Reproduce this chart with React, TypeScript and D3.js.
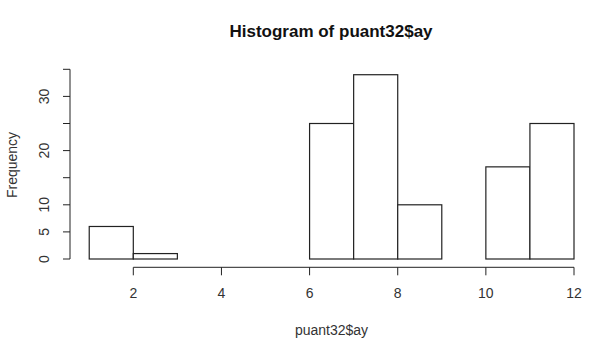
import React from "react";
import * as d3 from "d3";

const binStarts = [1, 2, 3, 4, 5, 6, 7, 8, 9, 10, 11];
const counts = [6, 1, 0, 0, 0, 25, 34, 10, 0, 17, 25];
const xTicks = [2, 4, 6, 8, 10, 12];
const yTicks = [0, 5, 10, 15, 20, 25, 30, 35];
const yLabels = [0, 5, 10, 20, 30];

const W = 605;
const H = 343;
const font = "'Liberation Sans', Arial, sans-serif";
const ink = "#222";

export default function App() {
  const x = d3.scaleLinear().domain([2, 12]).range([133.3, 574]);
  const y = d3.scaleLinear().domain([0, 35]).range([259, 69.3]);
  const axisX = 70;
  const axisY = 267.3;
  return (
    <svg width={W} height={H} style={{ position: "absolute", left: 0, top: 0, background: "#fff" }}>
      <text x={331} y={37} textAnchor="middle" fontFamily={font} fontWeight="bold" fontSize={17} fill="#111">
        Histogram of puant32$ay
      </text>
      {binStarts.map((b, i) => (
        <rect key={i} x={x(b)} y={y(counts[i])} width={x(b + 1) - x(b)} height={y(0) - y(counts[i])}
          fill="#fff" stroke={ink} strokeWidth={1.2} />
      ))}
      {/* y axis */}
      <line x1={axisX} x2={axisX} y1={y(0)} y2={y(35)} stroke={ink} strokeWidth={1} />
      {yTicks.map((t) => (
        <line key={t} x1={axisX - 7} x2={axisX} y1={y(t)} y2={y(t)} stroke={ink} strokeWidth={1} />
      ))}
      {yLabels.map((t) => (
        <text key={t} transform={`translate(${48.5},${y(t)}) rotate(-90)`} textAnchor="middle"
          fontFamily={font} fontSize={14} fill="#333">{t}</text>
      ))}
      <text transform={`translate(${17},${165}) rotate(-90)`} textAnchor="middle" fontFamily={font} fontSize={14} fill="#333">
        Frequency
      </text>
      {/* x axis */}
      <line x1={x(2)} x2={x(12)} y1={axisY} y2={axisY} stroke={ink} strokeWidth={1} />
      {xTicks.map((t) => (
        <g key={t}>
          <line x1={x(t)} x2={x(t)} y1={axisY} y2={axisY + 8} stroke={ink} strokeWidth={1} />
          <text x={x(t)} y={298} textAnchor="middle" fontFamily={font} fontSize={14} fill="#333">{t}</text>
        </g>
      ))}
      <text x={331.5} y={335} textAnchor="middle" fontFamily={font} fontSize={14} fill="#333">
        puant32$ay
      </text>
    </svg>
  );
}
